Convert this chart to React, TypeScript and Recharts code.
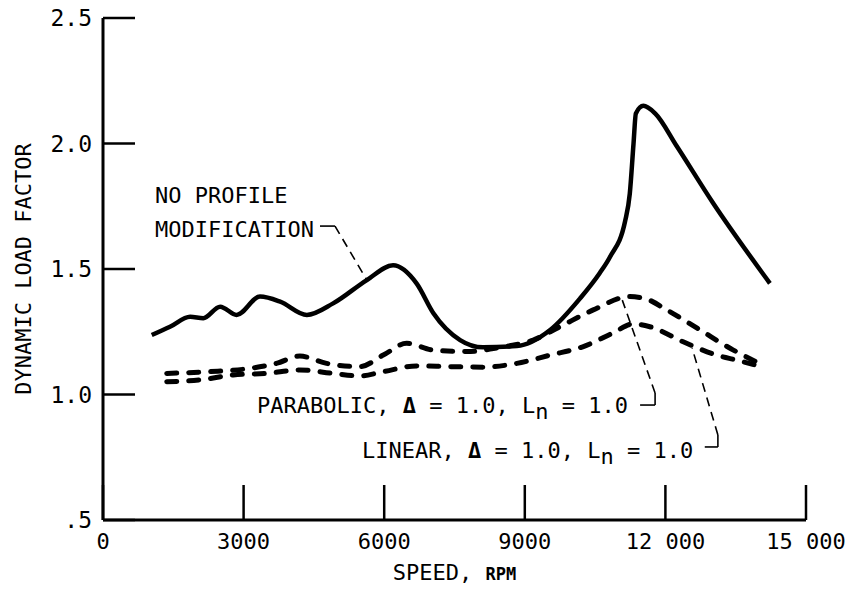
import { LineChart, Line, XAxis, YAxis, ReferenceLine, ReferenceDot, Label } from 'recharts';

const FONT = "'DejaVu Sans Mono', 'Liberation Mono', monospace";

// speed, rpm / dynamic load factor
const noModSpeed = [1040, 1430, 1860, 2140, 2500, 2850, 3350, 3780, 4350, 4910, 5630, 6190, 6690, 7050, 7620, 8110, 8830, 9540, 10180, 10600, 10820, 11140, 11240, 11320, 11370, 11530, 11780, 12240, 13020, 14230];
const noModFactor = [1.237, 1.27, 1.31, 1.304, 1.35, 1.317, 1.39, 1.37, 1.317, 1.363, 1.456, 1.515, 1.443, 1.324, 1.217, 1.188, 1.193, 1.257, 1.383, 1.484, 1.549, 1.69, 1.8, 2.0, 2.12, 2.15, 2.12, 1.99, 1.762, 1.443];

const parabolicSpeed = [1360, 2280, 3140, 3700, 4200, 4770, 5480, 5980, 6480, 7050, 7760, 8470, 9180, 9750, 10460, 11240, 11600, 12030, 12740, 13450, 13940];
const parabolicFactor = [1.084, 1.091, 1.104, 1.124, 1.153, 1.124, 1.111, 1.157, 1.204, 1.177, 1.171, 1.188, 1.217, 1.27, 1.337, 1.39, 1.38, 1.337, 1.257, 1.177, 1.13];

const linearSpeed = [1360, 2070, 2780, 3490, 4200, 4910, 5480, 5980, 6690, 7400, 8110, 8830, 9540, 10250, 10880, 11310, 11670, 12380, 13090, 13520, 13910];
const linearFactor = [1.051, 1.058, 1.078, 1.084, 1.098, 1.084, 1.074, 1.091, 1.114, 1.111, 1.109, 1.124, 1.157, 1.191, 1.245, 1.281, 1.27, 1.21, 1.157, 1.137, 1.118];

const xTicks = [0, 3000, 6000, 9000, 12000, 15000];
const yTicks = [0.5, 1.0, 1.5, 2.0, 2.5];

const zip = (xs: number[], ys: number[]) => xs.map((x, i) => ({ x, y: ys[i] }));
const noMod = zip(noModSpeed, noModFactor);
const parabolic = zip(parabolicSpeed, parabolicFactor);
const linear = zip(linearSpeed, linearFactor);

// leader lines, in data units
const leaders: [number, number, number, number][] = [
  [4630, 1.671, 4950, 1.671],
  [4950, 1.671, 5630, 1.456],
  [11460, 0.958, 11780, 0.958],
  [11780, 0.958, 11780, 1.006],
  [11780, 1.006, 11080, 1.376],
  [12840, 0.791, 13120, 0.791],
  [13120, 0.791, 13120, 0.839],
  [13120, 0.839, 12570, 1.185],
];

const fmtX = (v: number) => (v >= 10000 ? `${Math.floor(v / 1000)} 000` : String(v));
const fmtY = (v: number) => (v === 0.5 ? '.5' : v.toFixed(1));

function XTick({ x, y, payload }: any) {
  return (
    <g>
      <line x1={x} x2={x} y1={y} y2={y - 35} stroke="#000" strokeWidth={2.5} />
      <text x={x} y={y + 29} textAnchor="middle" fontFamily={FONT} fontSize={22} fill="#000">
        {fmtX(payload.value)}
      </text>
    </g>
  );
}

function YTick({ x, y, payload }: any) {
  return (
    <g>
      <line x1={x} x2={x + 32} y1={y} y2={y} stroke="#000" strokeWidth={2.5} />
      <text x={x - 11} y={y} textAnchor="end" dominantBaseline="central" fontFamily={FONT} fontSize={23} fill="#000">
        {fmtY(payload.value)}
      </text>
    </g>
  );
}

function Note({ x, y, children }: { x: number; y: number; children: any }) {
  return (
    <ReferenceDot
      x={x}
      y={y}
      r={1}
      ifOverflow="visible"
      shape={(p: any) => (
        <text x={p.cx} y={p.cy} fontFamily={FONT} fontSize={22} fill="#000">
          {children}
        </text>
      )}
    />
  );
}

function FormulaText({ name }: { name: string }) {
  return (
    <>
      <tspan>{name}, </tspan>
      <tspan fontWeight={700}>Δ</tspan>
      <tspan> = 1.0, L</tspan>
      <tspan dy={6}>n</tspan>
      <tspan dy={-6}> = 1.0</tspan>
    </>
  );
}

export default function App() {
  return (
    <div style={{ position: 'absolute', left: 0, top: 0, background: '#fff' }}>
      <LineChart width={849} height={590} margin={{ top: 18, right: 43, bottom: 0, left: 0 }}>
        <XAxis
          type="number"
          dataKey="x"
          domain={[0, 15000]}
          ticks={xTicks}
          height={70}
          tickSize={0}
          tickMargin={0}
          tickLine={false}
          tick={<XTick />}
          axisLine={{ stroke: '#000', strokeWidth: 3 }}
        >
          <Label
            content={({ viewBox }: any) => (
              <text x={viewBox.x + viewBox.width / 2} y={viewBox.y + 60} textAnchor="middle" fontFamily={FONT} fill="#000">
                <tspan fontSize={22}>SPEED, </tspan>
                <tspan fontSize={17} fontWeight={700}>RPM</tspan>
              </text>
            )}
          />
        </XAxis>
        <YAxis
          type="number"
          domain={[0.5, 2.5]}
          ticks={yTicks}
          width={103}
          tickSize={0}
          tickMargin={0}
          tickLine={false}
          tick={<YTick />}
          axisLine={{ stroke: '#000', strokeWidth: 3 }}
        >
          <Label
            content={({ viewBox }: any) => {
              const cx = viewBox.x + 23;
              const cy = viewBox.y + viewBox.height / 2;
              return (
                <text x={cx} y={cy} transform={`rotate(-90 ${cx} ${cy})`} textAnchor="middle" dominantBaseline="central" fontFamily={FONT} fontSize={22} fill="#000">
                  DYNAMIC LOAD FACTOR
                </text>
              );
            }}
          />
        </YAxis>

        <Line data={noMod} dataKey="y" type="monotone" stroke="#000" strokeWidth={4.5} dot={false} isAnimationActive={false} />
        <Line data={parabolic} dataKey="y" type="monotone" stroke="#000" strokeWidth={5} strokeDasharray="10 12" strokeLinecap="round" dot={false} isAnimationActive={false} />
        <Line data={linear} dataKey="y" type="monotone" stroke="#000" strokeWidth={5} strokeDasharray="10 12" strokeLinecap="round" dot={false} isAnimationActive={false} />

        {leaders.map(([x1, y1, x2, y2], i) => (
          <ReferenceLine
            key={i}
            segment={[{ x: x1, y: y1 }, { x: x2, y: y2 }]}
            stroke="#000"
            strokeWidth={1.6}
            strokeDasharray={x1 === x2 || y1 === y2 ? undefined : '9 6'}
            ifOverflow="visible"
          />
        ))}

        <Note x={1110} y={1.763}>NO PROFILE</Note>
        <Note x={1110} y={1.627}>MODIFICATION</Note>
        <Note x={3286} y={0.926}><FormulaText name="PARABOLIC" /></Note>
        <Note x={5526} y={0.747}><FormulaText name="LINEAR" /></Note>
      </LineChart>
    </div>
  );
}
